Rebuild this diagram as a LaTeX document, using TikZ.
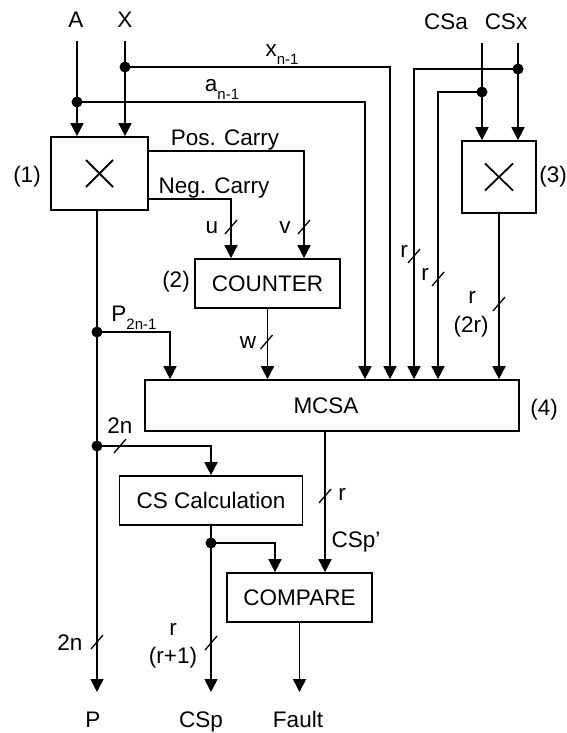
\documentclass[tikz,border=0pt]{standalone}
\usepackage{fontspec}
\setmainfont{Liberation Sans}
\usetikzlibrary{arrows.meta}
\newcommand\mysub[1]{\raisebox{-8pt}{\fontsize{15}{15}\selectfont #1}}
\begin{document}
\begin{tikzpicture}[x=1pt,y=-1pt,
  line width=1.7pt,
  font=\fontsize{22.5}{26}\selectfont,
  arr/.style={-{Triangle[width=13pt,length=13pt]}},
  blk/.style={draw,rectangle,inner sep=0pt,line width=1.7pt},
  lbl/.style={inner sep=0pt,anchor=base},
  clbl/.style={inner sep=0pt,anchor=center},
  dot/.style={circle,fill,inner sep=0pt,minimum size=11pt},
  busmark/.pic={\draw[line width=1.3pt] (-6,7) -- (6,-7);}
]
\path[use as bounding box] (0,0) rectangle (566,733);

% blocks
\node[blk,minimum width=97pt,minimum height=73pt] (m1) at (99.5,173.5) {};
\node[blk,minimum width=74pt,minimum height=72pt] (m3) at (499,177) {};
\node[blk,minimum width=145pt,minimum height=49pt] (cnt) at (267.5,283.5) {COUNTER};
\node[blk,minimum width=374pt,minimum height=51pt] (mcsa) at (332,405.5) {};
\node[clbl] (mcsat) at (326,406) {MCSA};
\node[blk,minimum width=183pt,minimum height=49pt] (csc) at (211,500.5) {CS Calculation};
\node[blk,minimum width=145pt,minimum height=49pt] (cmp) at (299.5,597.5) {COMPARE};

% crosses
\draw[line width=1.8pt] (m1.center) ++(-13.5,-13.5) -- ++(27,27)
      (m1.center) ++(-13.5,13.5) -- ++(27,-27);
\draw[line width=1.8pt] (m3.center) ++(-14,-13.5) -- ++(28,27)
      (m3.center) ++(-14,13.5) -- ++(28,-27);

% inputs and junctions
\node[lbl] (A) at (76,28) {A};
\node[lbl] (X) at (125,28) {X};
\node[lbl] (CSa) at (446,30) {CSa};
\node[lbl] (CSx) at (506,30) {CSx};
\coordinate (Atop) at (77,41);
\coordinate (Xtop) at (125,41);
\coordinate (CSatop) at (482,43);
\coordinate (CSxtop) at (518,43);
\node[dot] (jx) at (125,67) {};
\node[dot] (ja) at (77,102) {};
\node[dot] (jcx) at (518,69) {};
\node[dot] (jca) at (482,92) {};
\node[dot] (jp) at (97,332) {};
\node[dot] (j2n) at (97,446) {};
\node[dot] (jcs) at (211,543) {};

% columns
\coordinate (cA) at (365,0);
\coordinate (cX) at (390,0);
\coordinate (cCx) at (414,0);
\coordinate (cCa) at (438,0);
\coordinate (cPv) at (304,0);
\coordinate (cNv) at (231,0);
\coordinate (cP) at (97,0);
\coordinate (cP2) at (170,0);
\coordinate (cCmp) at (275,0);
\coordinate (cMo) at (325,0);
\coordinate (pc) at (148.5,151);
\coordinate (nc) at (148.5,199);
\coordinate (Pout) at (97,692);
\coordinate (CSpout) at (211,692);
\coordinate (Fout) at (299.5,692);

% connectors
\draw[arr] (Atop) -- (Atop |- m1.north);
\draw[arr] (Xtop) -- (Xtop |- m1.north);
\draw[arr] (CSatop) -- (CSatop |- m3.north);
\draw[arr] (CSxtop) -- (CSxtop |- m3.north);
\draw[arr] (jx.center) -| (cX |- mcsa.north);
\draw[arr] (ja.center) -| (cA |- mcsa.north);
\draw[arr] (jcx.center) -| (cCx |- mcsa.north);
\draw[arr] (jca.center) -| (cCa |- mcsa.north);
\draw[arr] (pc) -| (cPv |- cnt.north);
\draw[arr] (nc) -| (cNv |- cnt.north);
\draw[arr] (m3.south) -- (m3.south |- mcsa.north);
\draw[arr] (cnt.south) -- (cnt.south |- mcsa.north);
\draw[arr] (cP |- m1.south) -- (Pout);
\draw[arr] (jp.center) -| (cP2 |- mcsa.north);
\draw[arr] (j2n.center) -| (csc.north);
\draw[arr] (csc.south) -- (CSpout);
\draw[arr] (jcs.center) -| (cCmp |- cmp.north);
\draw[arr] (cMo |- mcsa.south) -- (cMo |- cmp.north);
\draw[arr] (cmp.south) -- (Fout);

% bus marks
\pic at (231,227) {busmark};
\pic at (304,227) {busmark};
\pic at (266.5,342) {busmark};
\pic at (414,256) {busmark};
\pic at (438,279) {busmark};
\pic at (499,304) {busmark};
\pic at (325,496) {busmark};
\pic at (97,642) {busmark};
\pic at (211,643) {busmark};
\pic at (120,446) {busmark};

% labels
\node[lbl] (lxn) at (282,57) {x\mysub{n-1}};
\node[lbl] (lan) at (222,92) {a\mysub{n-1}};
\node[lbl] (lpos) at (225,145) {Pos. Carry};
\node[lbl] (lneg) at (214,193) {Neg. Carry};
\node[clbl] (l1) at (27,176.5) {(1)};
\node[clbl] (l2) at (176,282) {(2)};
\node[clbl] (l3) at (553,177) {(3)};
\node[clbl] (l4) at (544,410) {(4)};
\node[lbl] (lu) at (212,233) {u};
\node[lbl] (lv) at (285,233) {v};
\node[lbl] (lw) at (248,348) {w};
\node[lbl] (lr1) at (404,257) {r};
\node[lbl] (lr2) at (425,280) {r};
\node[lbl] (lr3) at (472,303) {r};
\node[lbl] (l2r) at (471,332) {(2r)};
\node[lbl] (lp2n) at (134,321) {P\mysub{2n-1}};
\node[lbl] (l2na) at (120,433) {2n};
\node[lbl] (lr4) at (342,500) {r};
\node[lbl] (lcsp1) at (356,547) {CSp'};
\node[lbl] (l2nb) at (70,650) {2n};
\node[lbl] (lr5) at (173,635) {r};
\node[lbl] (lr1p) at (173,663) {(r+1)};
\node[lbl] (lP) at (93,727) {P};
\node[lbl] (lCSp) at (201,727) {CSp};
\node[lbl] (lF) at (298,727) {Fault};
\end{tikzpicture}
\end{document}
